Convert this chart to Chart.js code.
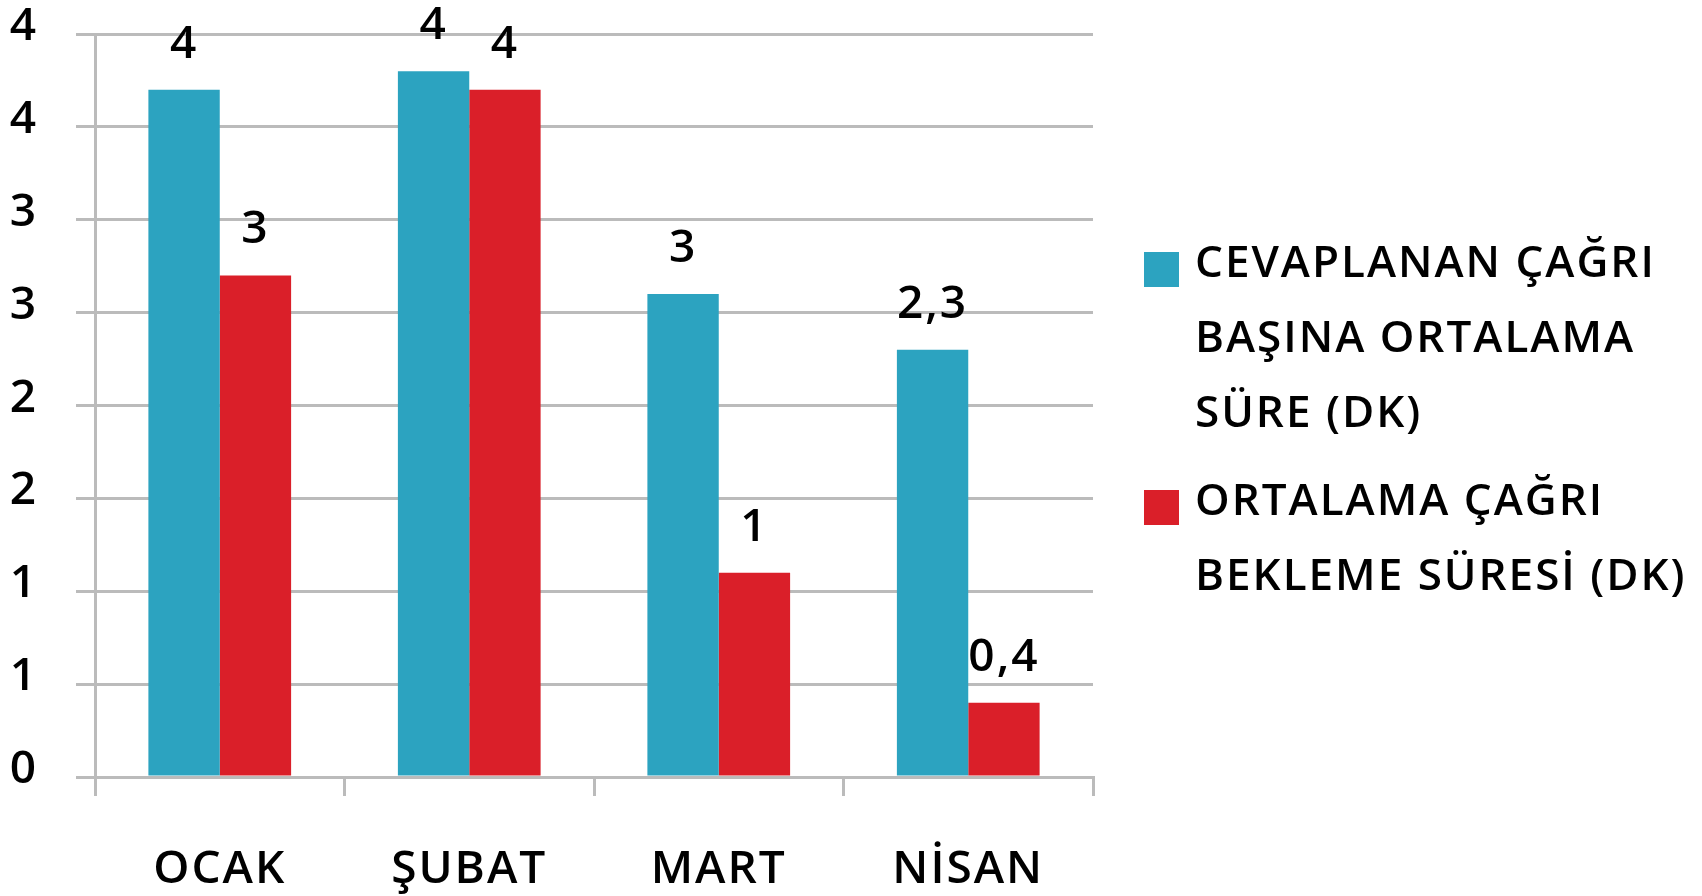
<!DOCTYPE html>
<html><head><meta charset="utf-8">
<script src="https://cdn.jsdelivr.net/npm/chart.js@4"></script>
<style>html,body{margin:0;padding:0;background:#fff;overflow:hidden}#wrap{width:1702px;height:896px;position:relative}</style>
</head><body><div id="wrap"><canvas id="c" width="1702" height="896"></canvas></div>
<script>
const categories = ["OCAK", "ŞUBAT", "MART", "NİSAN"];
const seriesNames = ["CEVAPLANAN ÇAĞRI BAŞINA ORTALAMA SÜRE (DK)", "ORTALAMA ÇAĞRI BEKLEME SÜRESİ (DK)"];
const legendLines = [["CEVAPLANAN ÇAĞRI", "BAŞINA ORTALAMA", "SÜRE (DK)"], ["ORTALAMA ÇAĞRI", "BEKLEME SÜRESİ (DK)"]];
const cevaplananSure = [3.7, 3.8, 2.6, 2.3];
const beklemeSuresi = [2.7, 3.7, 1.1, 0.4];
const cevaplananLabels = ["4", "4", "3", "2,3"];
const beklemeLabels = ["3", "4", "1", "0,4"];
const yTickLabels = ["0", "1", "1", "2", "2", "3", "3", "4", "4"];
const seriesColors = ["#2CA3C0", "#DA1F29"];
const dataLabels = [cevaplananLabels, beklemeLabels];

const FONT = "'Open Sans', 'Noto Sans', sans-serif";
const WEIGHT = 600;
const SPACING = "2px";
const GRID = "#BBBBBB";

const spacingPlugin = {
  id: 'spacing',
  beforeInit(chart) { chart.ctx.letterSpacing = SPACING; },
  beforeDraw(chart) { chart.ctx.letterSpacing = SPACING; }
};

const dataLabelPlugin = {
  id: 'dataLabels',
  afterDatasetsDraw(chart) {
    const ctx = chart.ctx;
    ctx.save();
    ctx.letterSpacing = SPACING;
    ctx.font = WEIGHT + " 46px " + FONT;
    ctx.fillStyle = "#000";
    ctx.textAlign = "center";
    ctx.textBaseline = "alphabetic";
    chart.data.datasets.forEach((ds, di) => {
      const meta = chart.getDatasetMeta(di);
      meta.data.forEach((bar, i) => {
        ctx.fillText(dataLabels[di][i], bar.x, bar.y - 32);
      });
    });
    ctx.restore();
  }
};

const legendPlugin = {
  id: 'sideLegend',
  afterDraw(chart) {
    const ctx = chart.ctx;
    ctx.save();
    ctx.letterSpacing = SPACING;
    ctx.font = WEIGHT + " 44px " + FONT;
    ctx.textAlign = "left";
    ctx.textBaseline = "alphabetic";
    const starts = [277, 515];
    const lineGap = 75;
    legendLines.forEach((lines, si) => {
      const base = starts[si];
      ctx.fillStyle = seriesColors[si];
      ctx.fillRect(1144, base - 25, 35, 35);
      ctx.fillStyle = "#000";
      lines.forEach((t, li) => ctx.fillText(t, 1195, base + li * lineGap));
    });
    ctx.restore();
  }
};

new Chart(document.getElementById('c'), {
  type: 'bar',
  data: {
    labels: categories,
    datasets: [
      { label: seriesNames[0], data: cevaplananSure, backgroundColor: seriesColors[0], barPercentage: 1, categoryPercentage: 0.572 },
      { label: seriesNames[1], data: beklemeSuresi, backgroundColor: seriesColors[1], barPercentage: 1, categoryPercentage: 0.572 }
    ]
  },
  options: {
    responsive: false,
    devicePixelRatio: 1,
    animation: false,
    layout: { padding: { top: 34, right: 609, left: 0, bottom: 0 } },
    plugins: { legend: { display: false }, tooltip: { enabled: false } },
    scales: {
      x: {
        grid: { display: true, drawOnChartArea: false, drawTicks: true, tickLength: 19, color: GRID, lineWidth: 3, offset: true },
        border: { display: true, color: GRID, width: 3 },
        ticks: { font: { family: FONT, size: 46, weight: WEIGHT }, color: "#000", padding: 46 },
        afterFit(s) { s.height = 119; }
      },
      y: {
        min: 0, max: 4,
        grid: { color: GRID, lineWidth: 3, tickLength: 19, drawTicks: true },
        border: { display: true, color: GRID, width: 3 },
        ticks: {
          stepSize: 0.5,
          font: { family: FONT, size: 46, weight: WEIGHT }, color: "#000", padding: 38, labelOffset: -7,
          callback(v, i) { return yTickLabels[i]; }
        },
        afterFit(s) { s.width = 95; s.paddingTop = 0; s.paddingBottom = 0; }
      }
    }
  },
  plugins: [spacingPlugin, dataLabelPlugin, legendPlugin]
});
</script>
</body></html>
